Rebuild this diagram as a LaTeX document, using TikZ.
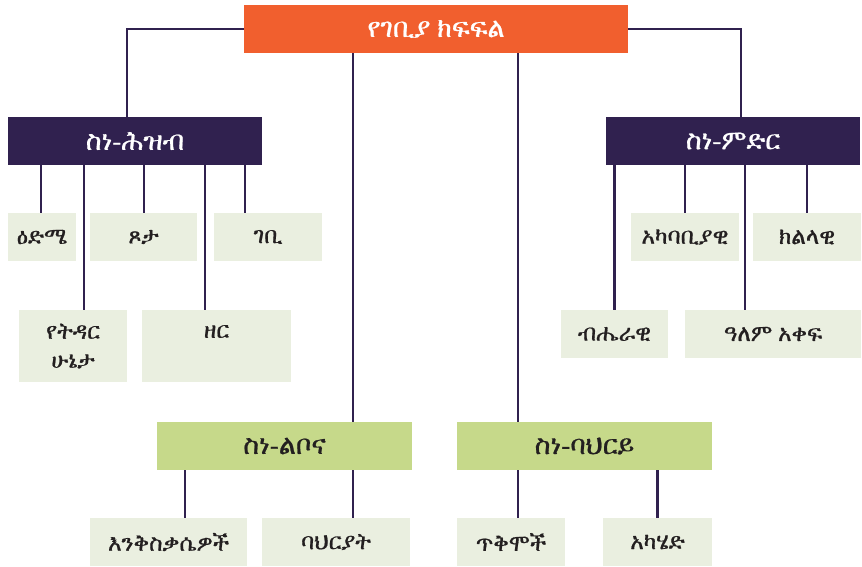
\documentclass[tikz,border=0pt]{standalone}
\usepackage{fontspec}
\setmainfont{FreeSerif}[FakeBold=0.8]
\definecolor{orangeC}{HTML}{F15F2E}
\definecolor{purpleC}{HTML}{30214F}
\definecolor{greenC}{HTML}{C6D98A}
\definecolor{leafC}{HTML}{EAEFE0}
\definecolor{textC}{HTML}{231F20}
\begin{document}
\begin{tikzpicture}[x=1pt,y=-1pt,
  box/.style={inner sep=0pt, outer sep=0pt, align=center},
  topbox/.style={box, fill=orangeC, text=white, font=\fontsize{27}{30}\selectfont},
  catbox/.style={box, fill=purpleC, text=white, font=\fontsize{27}{30}\selectfont, minimum width=254pt, minimum height=48pt},
  subbox/.style={box, fill=greenC, text=textC, font=\fontsize{27}{30}\selectfont, minimum width=255pt, minimum height=48pt},
  leaf/.style={box, fill=leafC, text=textC, font=\fontsize{23}{29}\selectfont, minimum height=48pt},
  conn/.style={draw=purpleC, line width=2.3pt}]
\useasboundingbox (0,0) rectangle (862,566);
\fill[white] (0,0) rectangle (862,566);
% main nodes
\node[topbox, minimum width=384pt, minimum height=48pt] (top) at (436,29) {የገቢያ ክፍፍል};
\node[catbox] (demo) at (135,141) {ስነ-ሕዝብ};
\node[catbox] (geo) at (733,141) {ስነ-ምድር};
\node[subbox] (psy) at (284.5,446) {ስነ-ልቦና};
\node[subbox] (beh) at (584.5,446) {ስነ-ባህርይ};
% demographic leaves
\node[leaf, minimum width=68pt] (age) at (42,237) {ዕድሜ};
\node[leaf, minimum width=107pt] (gender) at (143.5,237) {ጾታ};
\node[leaf, minimum width=108pt] (income) at (268,237) {ገቢ};
\node[leaf, minimum width=108pt, minimum height=72pt] (marital) at (73,346) {የትዳር\\ሁኔታ};
\node[leaf, minimum width=149pt, minimum height=72pt] (race) at (216.5,346) {ዘር\\\mbox{}};
% geographic leaves
\node[leaf, minimum width=108pt] (local) at (685,237) {አካባቢያዊ};
\node[leaf, minimum width=108pt] (regional) at (807,237) {ክልላዊ};
\node[leaf, minimum width=107pt] (national) at (614.5,334) {ብሔራዊ};
\node[leaf, minimum width=176pt] (global) at (773,334) {ዓለም አቀፍ};
% psychographic / behavioural leaves
\node[leaf, minimum width=157pt] (activ) at (168.5,542) {እንቅስቃሴዎች};
\node[leaf, minimum width=148pt] (traits) at (336,542) {ባህርያት};
\node[leaf, minimum width=108pt] (benefits) at (511,542) {ጥቅሞች};
\node[leaf, minimum width=109pt] (route) at (657.5,542) {አካሄድ};
% connectors from top
\coordinate (cdemo) at ([xshift=-8pt]demo.north);
\coordinate (cgeo) at ([xshift=8pt]geo.north);
\coordinate (cpsy) at ([xshift=68.5pt]psy.north);
\coordinate (cbeh) at ([xshift=-66.5pt]beh.north);
\draw[conn] (top.west) -| (cdemo);
\draw[conn] (top.east) -| (cgeo);
\draw[conn] (cpsy |- top.south) -- (cpsy);
\draw[conn] (cbeh |- top.south) -- (cbeh);
% demographic connectors
\coordinate (cage) at ([xshift=-1pt]age.north);
\coordinate (cgender) at ([xshift=0.5pt]gender.north);
\coordinate (cincome) at ([xshift=-23pt]income.north);
\coordinate (cmarital) at ([xshift=11pt]marital.north);
\coordinate (crace) at ([xshift=-11.5pt]race.north);
\foreach \c in {cage,cgender,cincome,cmarital,crace}
  \draw[conn] (\c |- demo.south) -- (\c);
% geographic connectors
\coordinate (clocal) at (local.north);
\coordinate (cregional) at (regional.north);
\coordinate (cnational) at (national.north);
\coordinate (cglobal) at ([xshift=-28pt]global.north);
\foreach \c in {clocal,cregional,cnational,cglobal}
  \draw[conn] (\c |- geo.south) -- (\c);
% psychographic connectors
\coordinate (cactiv) at ([xshift=16.5pt]activ.north);
\coordinate (ctraits) at ([xshift=17pt]traits.north);
\draw[conn] (cactiv |- psy.south) -- (cactiv);
\draw[conn] (ctraits |- psy.south) -- (ctraits);
% behavioural connectors
\coordinate (cbenefits) at ([xshift=7pt]benefits.north);
\coordinate (croute) at (route.north);
\draw[conn] (cbenefits |- beh.south) -- (cbenefits);
\draw[conn] (croute |- beh.south) -- (croute);
\end{tikzpicture}
\end{document}
